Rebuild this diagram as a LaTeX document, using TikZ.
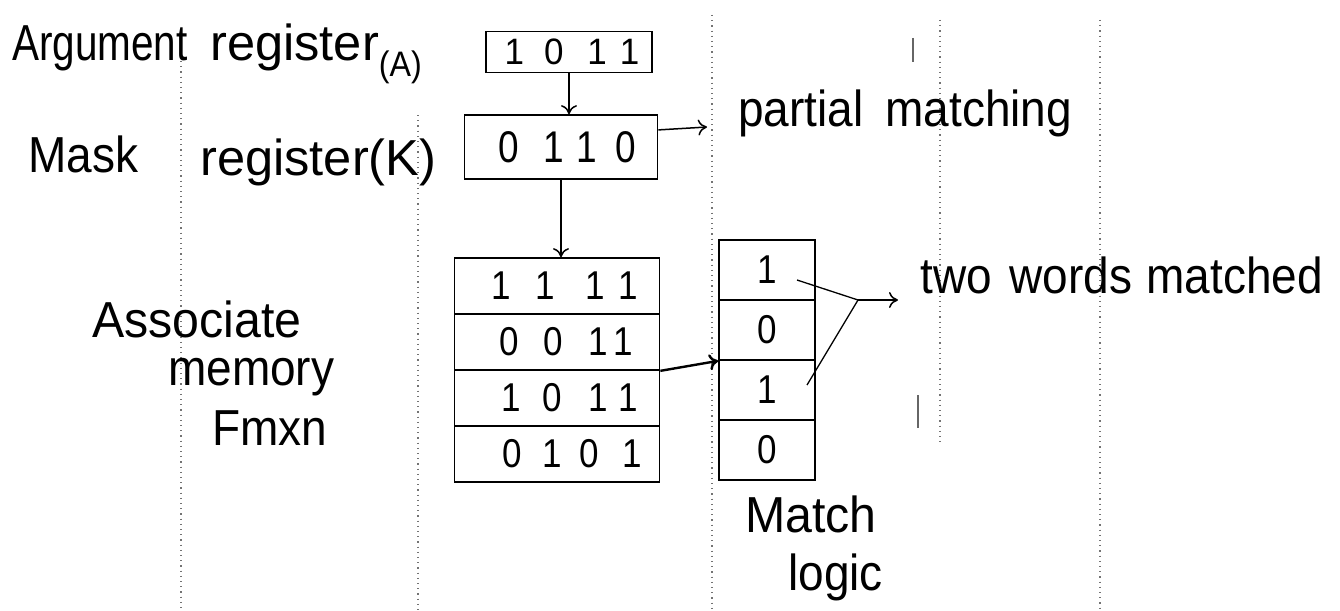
\documentclass[tikz,border=0pt]{standalone}
\usepackage{fontspec}
\setmainfont{Liberation Sans}
\usetikzlibrary{arrows.meta,calc}
\newcommand\hwr[2][1.1]{\scalebox{1}[#1]{#2}}
\newcommand\hwx[2]{\scalebox{#1}[1.1]{#2}}
\begin{document}
\begin{tikzpicture}[x=1pt,y=-1pt,
  box/.style={draw, line width=1.7pt, inner sep=0pt},
  digits/.style={font=\fontsize{35}{38}\selectfont},
  guide/.style={black!55, line width=1.3pt, dash pattern=on 1.2pt off 4pt},
  tick/.style={black!60, line width=1.2pt},
  conn/.style={line width=1.5pt, -{To[length=9pt,width=16pt]}},
  thin/.style={line width=1.3pt},
  lbl/.style={font=\fontsize{46}{52}\selectfont, inner sep=0pt, anchor=base west}]
\useasboundingbox (0,0) rectangle (1340,610);
\fill[white] (0,0) rectangle (1340,610);
% ruled-page guide dots
\draw[guide] (181,35) -- (181,610);
\draw[guide] (418,115) -- (418,610);
\draw[guide] (712,15) -- (712,610);
\draw[guide] (940,20) -- (940,445);
\draw[guide] (1100,20) -- (1100,610);
\draw[tick] (913,38) -- (913,62);
\draw[tick] (918,395) -- (918,428);
% registers
\node[box, digits, minimum width=166pt, minimum height=41pt] (A) at (569,52)
  {\hspace{6pt}\hwr[1.05]{1\hspace{20pt}0\hspace{24pt}1\hspace{13pt}1}};
\node[box, digits, minimum width=193pt, minimum height=64pt] (K) at (561,147)
  {\hspace{13pt}\hwr[1.2]{\fontsize{37}{40}\selectfont 0\hspace{24pt}1\hspace{13pt}1\hspace{18pt}0}};
% associative memory
\node[box, digits, minimum width=205pt, minimum height=56pt] (mem1) at (557,286)
  {\hspace{16pt}\hwr[1.15]{1\hspace{24pt}1\hspace{31pt}1\hspace{14pt}1}};
\node[box, digits, minimum width=205pt, minimum height=56pt] (mem2) at (557,342)
  {\hspace{19pt}\hwr[1.15]{0\hspace{24pt}0\hspace{26pt}1\hspace{6pt}1}};
\node[box, digits, minimum width=205pt, minimum height=56pt] (mem3) at (557,398)
  {\hspace{26pt}\hwr[1.15]{1\hspace{21pt}0\hspace{27pt}1\hspace{11pt}1}};
\node[box, digits, minimum width=205pt, minimum height=56pt] (mem4) at (557,454)
  {\hspace{30pt}\hwr[1.15]{0\hspace{21pt}1\hspace{18pt}0\hspace{23pt}1}};
% match logic
\node[box, digits, minimum width=96pt, minimum height=60pt] (match1) at (767,270) {\hwr[1.15]{1}};
\node[box, digits, minimum width=96pt, minimum height=60pt] (match2) at (767,330) {\hwr[1.15]{0}};
\node[box, digits, minimum width=96pt, minimum height=60pt] (match3) at (767,390) {\hwr[1.15]{1}};
\node[box, digits, minimum width=96pt, minimum height=60pt] (match4) at (767,450) {\hwr[1.15]{0}};
% labels
\node[lbl] (argA) at (12,60) {\hwx{0.88}{Argument}};
\node[lbl] (argB) at (210,60) {\hwx{1.1}{register}\hwr{\textsubscript{(A)}}};
\node[lbl] (maskA) at (28,172) {\hwr{Mask}};
\node[lbl] (maskB) at (200,175) {\hwx{1.1}{register(K)}};
\node[lbl] (pm) at (738,126) {\hwr{partial\hspace{22pt}matching}};
\node[lbl] (tw) at (920,293) {\hwr{two\hspace{18pt}words\hspace{14pt}matched}};
\node[lbl] (as1) at (92,337) {\hwx{1.05}{Associate}};
\node[lbl] (as2) at (168,385) {\hwr{memory}};
\node[lbl] (as3) at (212,445) {\hwr{Fmxn}};
\node[lbl] (ml1) at (745,532) {\hwx{1.05}{Match}};
\node[lbl] (ml2) at (788,590) {\hwr{logic}};
% connectors
\draw[conn] (A.south) -- (A.south |- K.north);
\draw[conn] (K.south) -- (K.south |- mem1.north);
\coordinate (pmend) at (707,127);
\draw[conn] ($(K.north east)!0.24!(K.south east)$) -- (pmend);
\draw[conn, line width=2.4pt] (mem2.south east) -- (match2.south west);
\coordinate (w1) at (797,280);
\coordinate (w3) at (807,385);
\coordinate (cv) at (858,300);
\coordinate (twa) at (898,300);
\draw[thin] (w1) -- (cv);
\draw[thin] (w3) -- (cv);
\draw[conn] (cv) -- (twa);
\end{tikzpicture}
\end{document}
